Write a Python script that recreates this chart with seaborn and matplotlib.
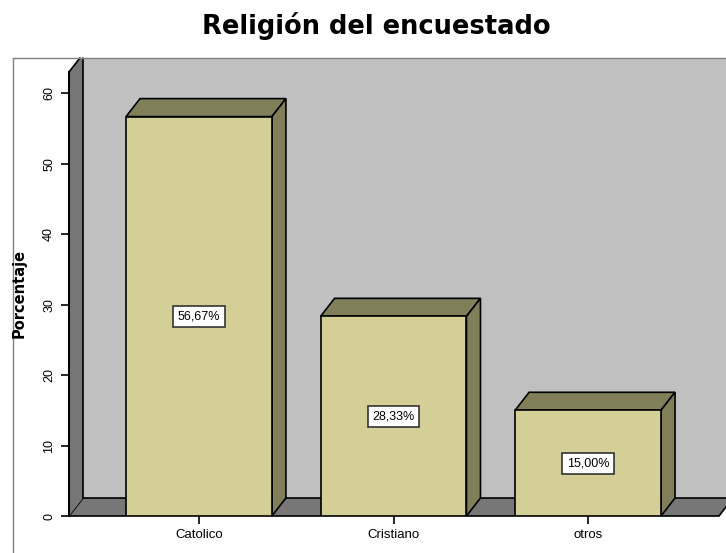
import matplotlib
matplotlib.use("Agg")
import matplotlib.pyplot as plt
import seaborn as sns
from matplotlib.patches import Polygon
from matplotlib.lines import Line2D

categories = ["Catolico", "Cristiano", "otros"]
values = [56.67, 28.33, 15.00]
value_labels = ["56,67%", "28,33%", "15,00%"]
yticks = [0, 10, 20, 30, 40, 50, 60]

sns.set_theme(style="white")
plt.rcParams['font.family'] = ['Liberation Sans', 'DejaVu Sans']
plt.rcParams['text.color'] = 'black'
plt.rcParams['xtick.color'] = 'black'
plt.rcParams['ytick.color'] = 'black'

W, H = 726, 553
fig = plt.figure(figsize=(W / 100, H / 100), dpi=100)
fig.patch.set_facecolor("white")

# axes placement in pixels
ax_l, ax_r, ax_t, ax_b = 69, 719, 72, 516
ax = fig.add_axes([ax_l / W, (H - ax_b) / H, (ax_r - ax_l) / W, (ax_b - ax_t) / H])
ax.set_facecolor("none")

xmin, xmax = -0.668, 2.673
ymin, ymax = 0, 63
px_x = (ax_r - ax_l) / (xmax - xmin)
px_y = (ax_b - ax_t) / (ymax - ymin)
dx = 14 / px_x
dy = 18 / px_y
ytop_frame = (ax_b - 58) / px_y  # frame top in data units

front = "#D3CF97"
shade = "#807F5A"
wall = "#C0C0C0"
side = "#777777"

# back wall
ax.add_patch(Polygon([(xmin + dx, dy), (xmax + 1, dy), (xmax + 1, ytop_frame), (xmin + dx, ytop_frame)],
                     closed=True, fc=wall, ec="none", clip_on=False, zorder=0))
# floor
ax.add_patch(Polygon([(xmin, 0), (xmax, 0), (xmax + dx, dy), (xmin + dx, dy)],
                     closed=True, fc=side, ec="black", lw=1.2, clip_on=False, zorder=0.5))
# left wall (clipped to frame top)
frac = (ytop_frame - ymax) / dy
ax.add_patch(Polygon([(xmin, 0), (xmin, ymax), (xmin + frac * dx, ytop_frame), (xmin + dx, ytop_frame), (xmin + dx, dy)],
                     closed=True, fc=side, ec="none", clip_on=False, zorder=0.5))
ax.add_line(Line2D([xmin + dx, xmin + dx], [dy, ytop_frame], color="black", lw=1.2, zorder=0.6, clip_on=False))
ax.add_line(Line2D([xmin, xmin + frac * dx], [ymax, ytop_frame], color="black", lw=1.2, zorder=0.6, clip_on=False))

sns.barplot(x=categories, y=values, color=front, saturation=1, edgecolor="black",
            linewidth=1.2, width=0.75, ax=ax, zorder=3)

for bar in list(ax.containers[0]):
    x0 = bar.get_x()
    x1 = x0 + bar.get_width()
    v = bar.get_height()
    ax.add_patch(Polygon([(x0, v), (x0 + dx, v + dy), (x1 + dx, v + dy), (x1, v)],
                         closed=True, fc=shade, ec="black", lw=1.2, clip_on=False, zorder=2.5))
    ax.add_patch(Polygon([(x1, 0), (x1, v), (x1 + dx, v + dy), (x1 + dx, dy)],
                         closed=True, fc=shade, ec="black", lw=1.2, clip_on=False, zorder=2.5))

for i, (v, lab) in enumerate(zip(values, value_labels)):
    ax.text(i, v / 2, lab, ha="center", va="center", fontsize=9, color="black", zorder=5,
            bbox=dict(boxstyle="square,pad=0.35", fc="white", ec="#333333", lw=1.2))

ax.set_xlim(xmin, xmax)
ax.set_ylim(ymin, ymax)
ax.set_yticks(yticks)
ax.set_yticklabels([str(t) for t in yticks], rotation=90, va="center", fontsize=9)
ax.tick_params(axis="y", length=6, width=1.2, color="black", pad=4, left=True)
ax.tick_params(axis="x", length=6, width=1.2, color="black", pad=3, bottom=True, labelsize=9.5)
for s in ["top", "right", "bottom"]:
    ax.spines[s].set_visible(False)
ax.spines["left"].set_color("black")
ax.spines["left"].set_linewidth(1.5)
ax.spines["left"].set_zorder(1)
ax.set_xlabel("")
ax.set_ylabel("")

fig.text(19 / W, 1 - 293 / H, "Porcentaje", rotation=90, ha="center", va="center",
         fontsize=10.5, fontweight="bold", family="DejaVu Sans")

# outer frame
fig.add_artist(Line2D([13 / W, 13 / W], [0, (H - 58) / H], color="#808080", lw=1, transform=fig.transFigure))
fig.add_artist(Line2D([13 / W, 1], [(H - 58) / H, (H - 58) / H], color="#808080", lw=1, transform=fig.transFigure))

fig.text(376 / W, 1 - 26 / H, "Religión del encuestado", ha="center", va="center",
         fontsize=18.5, fontweight="bold", family="DejaVu Sans")

fig.savefig("out.png", dpi=100)
